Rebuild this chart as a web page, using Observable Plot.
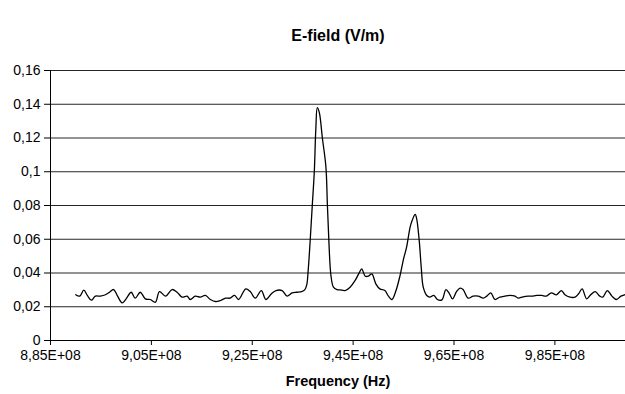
<!DOCTYPE html>
<html>
<head>
<meta charset="utf-8">
<script src="https://cdn.jsdelivr.net/npm/d3@7"></script>
<script src="https://cdn.jsdelivr.net/npm/@observablehq/plot@0.6"></script>
<style>
  body { margin: 0; background: #fff; }
  svg { display: block; }
</style>
</head>
<body>
<div id="chart"></div>
<script>
const title = "E-field (V/m)";
const xLabel = "Frequency (Hz)";
const xTicks = [885, 905, 925, 945, 965, 985]; // MHz
const yTicks = [0, 0.02, 0.04, 0.06, 0.08, 0.1, 0.12, 0.14, 0.16];

// frequency in MHz
const freq = [
  890.0, 890.8, 891.6, 892.3, 893.1, 893.9, 894.9, 895.9, 896.7, 897.5,
  898.3, 899.2, 900.0, 901.0, 901.8, 902.8, 903.8, 904.8, 905.8, 906.6,
  907.8, 909.1, 910.1, 911.1, 912.1, 912.7, 913.7, 914.7, 915.7, 916.7,
  917.7, 918.7, 919.7, 920.6, 921.5, 922.3, 923.7, 924.6, 925.6, 926.8,
  927.7, 928.8, 929.7, 930.9, 931.9, 932.9, 933.8, 934.8, 935.4, 935.8,
  936.1, 936.5, 936.9, 937.3, 937.6, 937.9, 938.3, 938.9, 939.6, 939.9,
  940.2, 940.6, 941.1, 941.8, 942.4, 943.4, 944.4, 945.4, 946.2, 946.7,
  947.4, 948.0, 948.7, 949.5, 950.3, 951.3, 952.0, 952.7, 953.5, 954.3,
  955.0, 955.6, 956.3, 956.7, 957.3, 957.6, 958.1, 958.5, 958.9, 959.6,
  960.2, 961.0, 961.7, 962.6, 963.4, 964.1, 964.7, 965.5, 966.2, 966.8,
  967.8, 968.8, 969.8, 970.8, 971.5, 972.3, 973.1, 974.1, 975.1, 976.1,
  977.1, 977.7, 978.7, 979.7, 980.4, 981.4, 982.4, 983.3, 984.3, 985.3,
  986.3, 987.0, 988.0, 989.0, 989.7, 990.4, 991.3, 992.1, 993.0, 993.9,
  994.5, 995.4, 996.3, 997.2, 998.1, 998.8
];
const efield = [
  0.0271, 0.0263, 0.0298, 0.0267, 0.0239, 0.0263, 0.0263, 0.0271, 0.0286, 0.0302,
  0.0263, 0.0223, 0.0247, 0.0286, 0.0251, 0.0286, 0.0247, 0.0243, 0.0227, 0.0290,
  0.0263, 0.0302, 0.0286, 0.0257, 0.0263, 0.0243, 0.0263, 0.0257, 0.0267, 0.0243,
  0.0231, 0.0237, 0.0251, 0.0251, 0.0267, 0.0243, 0.0306, 0.0290, 0.0251, 0.0296,
  0.0243, 0.0277, 0.0296, 0.0296, 0.0263, 0.0282, 0.0286, 0.0290, 0.0300, 0.0330,
  0.0420, 0.0600, 0.0800, 0.1000, 0.1250, 0.1380, 0.1350, 0.1200, 0.1030, 0.0800,
  0.0583, 0.0385, 0.0316, 0.0302, 0.0300, 0.0296, 0.0316, 0.0356, 0.0401, 0.0425,
  0.0381, 0.0381, 0.0395, 0.0336, 0.0306, 0.0296, 0.0263, 0.0243, 0.0296, 0.0385,
  0.0484, 0.0553, 0.0672, 0.0711, 0.0747, 0.0721, 0.0593, 0.0434, 0.0316, 0.0267,
  0.0257, 0.0267, 0.0243, 0.0241, 0.0302, 0.0277, 0.0247, 0.0290, 0.0310, 0.0302,
  0.0251, 0.0263, 0.0263, 0.0251, 0.0263, 0.0282, 0.0243, 0.0257, 0.0263, 0.0267,
  0.0263, 0.0251, 0.0259, 0.0263, 0.0263, 0.0267, 0.0267, 0.0263, 0.0282, 0.0271,
  0.0296, 0.0271, 0.0257, 0.0257, 0.0277, 0.0306, 0.0247, 0.0271, 0.0290, 0.0263,
  0.0257, 0.0296, 0.0263, 0.0243, 0.0263, 0.0271
];

const data = freq.map((f, i) => ({f, v: efield[i]}));

const fmtX = d => (d / 100).toFixed(2).replace(".", ",") + "E+08";
const fmtY = d => String(+d.toFixed(2)).replace(".", ",");

const chart = Plot.plot({
  width: 625,
  height: 394,
  marginLeft: 50,
  marginRight: 0,
  marginTop: 70,
  marginBottom: 54,
  style: {fontFamily: "'Liberation Sans', Arial, sans-serif", fontSize: "14px", color: "#000", background: "#fff"},
  x: {domain: [885, 999], ticks: xTicks, tickFormat: fmtX},
  y: {domain: [0, 0.16], ticks: yTicks, tickFormat: fmtY},
  marks: [
    Plot.ruleY(yTicks.filter(d => d > 0), {stroke: "#000", strokeWidth: 1, strokeOpacity: 0.85}),
    Plot.axisY({ticks: yTicks, tickFormat: fmtY, tickSize: 6, tickPadding: 4, label: null, fontSize: 14}),
    Plot.axisX({ticks: xTicks, tickFormat: fmtX, tickSize: 5, tickPadding: 5, label: null, fontSize: 14}),
    Plot.ruleX([885], {stroke: "#000"}),
    Plot.ruleY([0], {stroke: "#000"}),
    Plot.line(data, {x: "f", y: "v", stroke: "#000", strokeWidth: 1.3, curve: "catmull-rom"}),
    Plot.text([title], {frameAnchor: "top", dy: -41, fontWeight: "bold", fontSize: 16, text: d => d}),
    Plot.text([xLabel], {frameAnchor: "bottom", dy: 45, fontWeight: "bold", fontSize: 14.5, text: d => d})
  ]
});
document.getElementById("chart").appendChild(chart);
</script>
</body>
</html>
